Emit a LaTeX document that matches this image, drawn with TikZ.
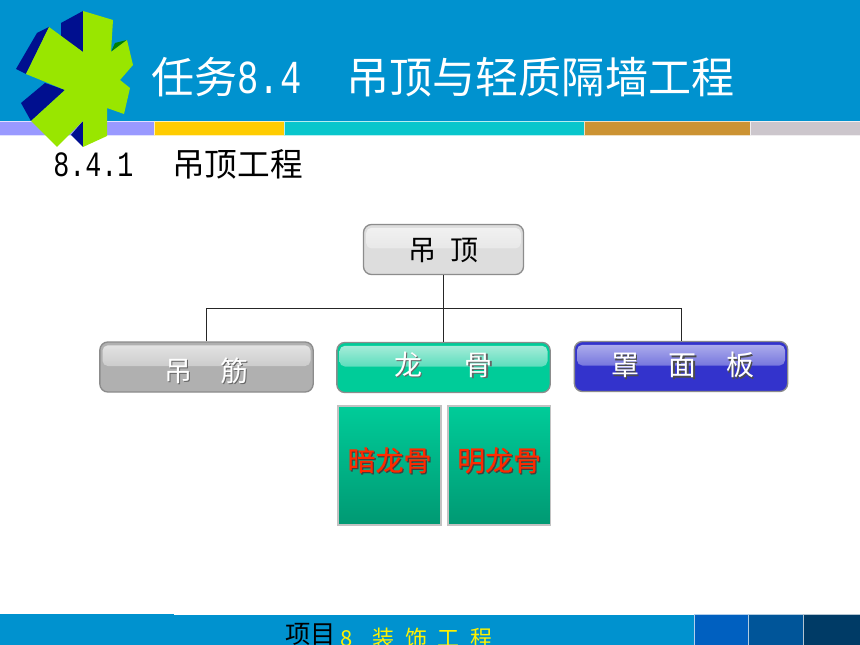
\documentclass[tikz,border=0pt]{standalone}
\usepackage{fontspec}
\setmainfont{Noto Sans CJK SC}
\newfontfamily\monofnt[FakeStretch=.75]{Liberation Mono}
\newfontfamily\heavyfnt[FakeBold=.6]{Noto Sans CJK SC}
\usetikzlibrary{positioning}

\definecolor{barblue}{HTML}{0092CF}
\definecolor{stargreen}{HTML}{99E600}
\definecolor{stardark}{HTML}{000F8F}
\definecolor{stripa}{HTML}{9999FF}
\definecolor{stripb}{HTML}{FFCC00}
\definecolor{stripc}{HTML}{09C6CC}
\definecolor{stripd}{HTML}{CC9333}
\definecolor{stripe}{HTML}{CCC6CC}
\definecolor{foota}{HTML}{0060C0}
\definecolor{footb}{HTML}{005599}
\definecolor{footc}{HTML}{003B66}
\definecolor{subtop}{HTML}{00CC99}
\definecolor{subbot}{HTML}{009973}
\definecolor{subgloss}{HTML}{B0EEDD}
\definecolor{bandblue}{HTML}{3333CC}
\definecolor{bandgloss}{HTML}{B4B4EE}
\definecolor{dingbase}{HTML}{DDDDDD}
\definecolor{dinggloss}{HTML}{F2F2F2}
\definecolor{jinbase}{HTML}{B0B0B0}
\definecolor{jingloss}{HTML}{E6E6E6}
\definecolor{redtext}{HTML}{FF2A00}
\newcommand{\shtext}[3]{\makebox[0pt][l]{\hspace{.9pt}\raisebox{-.9pt}{\textcolor{#3}{#1}}}\textcolor{#2}{#1}}
\newcommand{\rtext}[2]{\raisebox{#1}[8pt][8pt]{#2}}

\tikzset{
    strip/.style={fill=#1,draw=white!70!#1,line width=.5pt},
    panel/.style 2 args={rounded corners=6pt,draw=gray!90,line width=1pt,fill=#1,
        minimum width=160pt,minimum height=37.5pt,inner sep=0pt,font=\fontsize{21}{21}\selectfont,
        path picture={\shade[top color=#2,bottom color=#1,rounded corners=4pt]
            ([shift={(2pt,-2.5pt)}]path picture bounding box.north west) rectangle
            ([shift={(-2pt,-18pt)}]path picture bounding box.north east);}},
    subpanel/.style={draw=black!24,line width=1.2pt,top color=subtop,bottom color=subbot,
        minimum width=77pt,minimum height=89pt,inner sep=0pt,font=\heavyfnt\fontsize{21}{21}\selectfont},
    conn/.style={draw=black!85,line width=.7pt}
}

\begin{document}
\begin{tikzpicture}[x=.75pt,y=-.75pt]
    \clip (0,0) rectangle (860,645);
    \fill[white] (0,0) rectangle (860,645);

    % header and footer
    \fill[barblue] (0,0) rectangle (860,121);
    \path[strip=stripa] (-2,121) rectangle (154,135.5);
    \path[strip=stripb] (154,121) rectangle (284,135.5);
    \path[strip=stripc] (284,121) rectangle (584,135.5);
    \path[strip=stripd] (584,121) rectangle (750,135.5);
    \path[strip=stripe] (750,121) rectangle (862,135.5);
    \fill[barblue] (0,614.5) rectangle (860,645);
    \fill[barblue] (0,613.5) rectangle (174,615);
    \path[strip=foota] (694,614) rectangle (748.5,647);
    \path[strip=footb] (748.5,614) rectangle (803.5,647);
    \path[strip=footc] (803.5,614) rectangle (862,647);

    % star
    \fill[stardark] (83,11) -- (61,23) -- (61,37) -- (83,52) -- cycle;
    \fill[stardark] (49,27) -- (37,33) -- (16,69) -- (26,74) -- cycle;
    \fill[stardark] (45,83) -- (21,103) -- (31,121) -- (65,90) -- cycle;
    \fill[stardark] (83,121) -- (71,135) -- (83,147) -- cycle;
    \fill[green!50!black] (127,40) -- (115,43) -- (111,52) -- cycle;
    \fill[stargreen] (83,11) -- (113,20) -- (111,52) -- (127,40) -- (133,65) -- (120,80)
        -- (130,88) -- (124,114) -- (107,108) -- (107,136) -- (83,147) -- (83,121) -- (57,147)
        -- (31,121) -- (65,90) -- (26,74) -- (49,27) -- (83,52) -- cycle;

    % titles
    \node (title) [anchor=base west,inner sep=0pt,text=white,font=\fontsize{32.3}{32}\selectfont] at (151,94)
        {任务{\monofnt\fontsize{35.5}{36}\selectfont 8.4}\hspace{34pt}吊顶与轻质隔墙工程};
    \node (head) [anchor=base west,inner sep=0pt,text=black,font=\fontsize{24.5}{24}\selectfont] at (53,177)
        {{\monofnt\fontsize{26.7}{26}\selectfont 8.4.1}\hspace{29pt}吊顶工程};
    \node (foot) [anchor=base west,inner sep=0pt,text=black,font=\fontsize{19}{19}\selectfont] at (285,643)
        {项目};
    \node (footy) [anchor=base west,inner sep=0pt,text=yellow,font=\fontsize{16.5}{16}\selectfont] at (340,646)
        {8\hspace{15pt}装\hspace{8pt}饰\hspace{8pt}工\hspace{8pt}程};

    % boxes
    \node (ding) [panel={dingbase}{dinggloss},minimum width=120pt] at (443.5,249.5) {\rtext{-8.5pt}{吊\hspace{10pt}顶}};
    \node (jin) [panel={jinbase}{jingloss}] at (206.5,367)
        {\rtext{-11pt}{\shtext{吊\hspace{21pt}筋}{white}{black!60}}};
    \node (longgu) [panel={subtop}{subgloss}] at (443.5,367.5)
        {\rtext{-6pt}{\shtext{龙\hspace{32pt}骨}{white}{black!60}}};
    \node (ban) [panel={bandblue}{bandgloss}] at (681,366.5)
        {\rtext{-7pt}{\hspace{3pt}\shtext{罩\hspace{22pt}面\hspace{22pt}板}{white}{black!70}}};
    \node (an) [subpanel] at (389.5,465.5) {\rtext{-4pt}{\shtext{暗龙骨}{redtext}{black!75}}};
    \node (ming) [subpanel,right=4pt of an] {\rtext{-4pt}{\shtext{明龙骨}{redtext}{black!75}}};

    \coordinate (mid) at (443.5,308);
    \path[conn] (ding) edge (longgu)
                (jin.north) edge[to path={|- (\tikztotarget)}] (mid)
                (ban.north) edge[to path={|- (\tikztotarget)}] (mid);
\end{tikzpicture}
\end{document}
